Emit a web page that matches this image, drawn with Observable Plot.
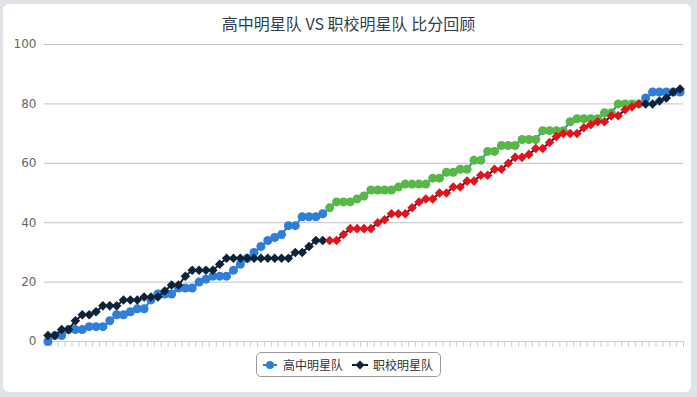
<!DOCTYPE html>
<html>
<head>
<meta charset="utf-8">
<script src="https://cdn.jsdelivr.net/npm/d3@7"></script>
<script src="https://cdn.jsdelivr.net/npm/@observablehq/plot@0.6"></script>
<style>
html,body{margin:0;padding:0;}
body{width:697px;height:397px;background:#dfe2e7;position:relative;overflow:hidden;font-family:"Noto Sans CJK SC","Noto Sans",sans-serif;}
#panel{position:absolute;left:3px;top:4px;width:688px;height:388px;background:#fff;border-radius:6px;}
#title{position:absolute;left:0;width:697px;top:14px;line-height:18px;text-align:center;font-size:16px;color:#2f3f50;white-space:pre;}
#chart{position:absolute;left:0;top:0;}
#legend{position:absolute;left:256px;top:352px;width:185px;height:25px;border:1px solid #999;border-radius:5px;box-sizing:border-box;}
.lg{position:absolute;font-size:12px;color:#333;line-height:14px;top:5px;white-space:nowrap;}
.sw{position:absolute;top:0;}
</style>
</head>
<body>
<div id="panel"></div>
<div id="chart"></div>
<div id="title"></div>
<div id="legend"></div>
<script>
const chartTitle = "高中明星队 VS 职校明星队 比分回顾";
const seriesNames = ["高中明星队", "职校明星队"];
const yTicks = [0, 20, 40, 60, 80, 100];
// score of each team after every scoring play (one category per play)
const highSchool = [0,2,2,4,4,4,5,5,5,7, 9,9,10,11,11,14,16,16,16,18, 18,18,20,21,22,22,22,24,26,28,
  30,32,34,35,36,39,39,42,42,42, 43,45,47,47,47,48,49,51,51,51, 51,52,53,53,53,53,55,55,57,57,
  58,58,61,61,64,64,66,66,66,68, 68,68,71,71,71,71,74,75,75,75, 75,77,77,80,80,80,80,82,84,84,
  84,84,84];
const vocational = [2,2,4,4,7,9,9,10,12,12, 12,14,14,14,15,15,15,17,19,19, 22,24,24,24,24,26,28,28,28,28,
  28,28,28,28,28,28,30,30,32,34, 34,34,34,36,38,38,38,38,40,41, 43,43,43,45,47,48,48,50,50,52,
  52,54,54,56,56,58,58,60,62,62, 63,65,65,67,69,70,70,70,72,73, 74,74,76,76,78,79,80,80,80,81,
  82,84,85];
// plays inside the highlighted stretch (first and last category index)
const highlightRange = [41, 86];

const colors = {blue: "#2f7ed8", dark: "#0d233a", green: "#56b846", red: "#e3121b"};
const n = highSchool.length;
const idx = highSchool.map((_, i) => i);
const inZone = i => i >= highlightRange[0] && i <= highlightRange[1];
const tickPos = [...idx.map(i => i - 0.5), n - 0.5];

document.getElementById("title").textContent = chartTitle;

const plot = Plot.plot({
  width: 697, height: 397,
  marginLeft: 44, marginRight: 14, marginTop: 44, marginBottom: 56,
  x: {domain: [-0.5, n - 0.5], axis: null},
  y: {domain: [0, 100], axis: null},
  style: {background: "transparent", fontFamily: "'DejaVu Sans', sans-serif", fontSize: "12px"},
  marks: [
    Plot.gridY(yTicks.filter(d => d > 0), {stroke: "#c0c0c0", strokeOpacity: 1}),
    Plot.axisY(yTicks, {tickSize: 0, tickPadding: 8, fill: "#666", fontSize: 12}),
    Plot.ruleY([0], {stroke: "#c0d0e0"}),
    Plot.axisX(tickPos, {anchor: "bottom", tickSize: 6, tickPadding: 0, tickFormat: () => "", stroke: "#c0d0e0", strokeOpacity: 1}),
    Plot.line(idx, {x: i => i, y: i => highSchool[i], stroke: colors.blue, strokeWidth: 2}),
    Plot.dot(idx, {x: i => i, y: i => highSchool[i], r: 4.5, fill: i => inZone(i) ? colors.green : colors.blue, stroke: "none"}),
    Plot.line(idx, {x: i => i, y: i => vocational[i], stroke: colors.dark, strokeWidth: 2}),
    Plot.dot(idx, {x: i => i, y: i => vocational[i], r: 4.3, symbol: "diamond2", fill: i => inZone(i) ? colors.red : colors.dark, stroke: "none"})
  ]
});
document.getElementById("chart").appendChild(plot);

const lg = document.getElementById("legend");
lg.innerHTML =
  `<svg class="sw" width="185" height="25" style="left:-1px;top:-1px">
     <line x1="7" x2="21" y1="13" y2="13" stroke="${colors.blue}" stroke-width="2"/>
     <circle cx="14" cy="13" r="4" fill="${colors.blue}"/>
     <line x1="96" x2="112" y1="13" y2="13" stroke="${colors.dark}" stroke-width="2"/>
     <path d="M104,8.5L108.5,13L104,17.5L99.5,13Z" fill="${colors.dark}"/>
   </svg>
   <span class="lg" style="left:26px">${seriesNames[0]}</span>
   <span class="lg" style="left:116px">${seriesNames[1]}</span>`;
</script>
</body>
</html>
